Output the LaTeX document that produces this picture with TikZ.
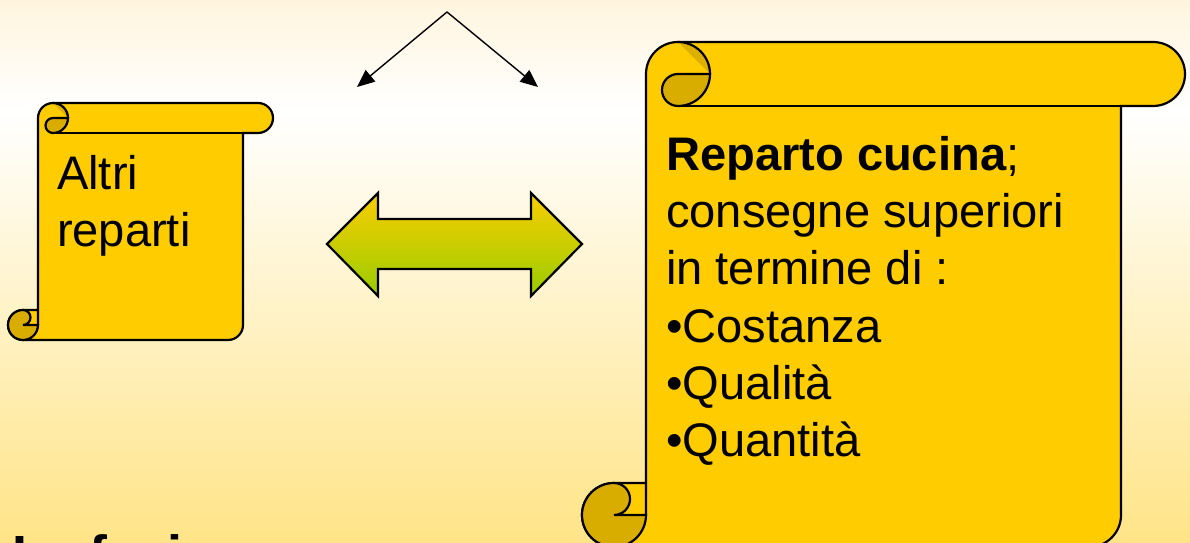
\documentclass[tikz,border=0pt]{standalone}
\usepackage{fontspec}
\setmainfont{Liberation Sans}
\usetikzlibrary{arrows.meta}
\definecolor{giallo}{RGB}{255,204,0}
\definecolor{ombra}{RGB}{217,173,0}
\definecolor{crema}{RGB}{255,245,222}
\definecolor{fondo}{RGB}{255,228,135}
\definecolor{oro}{RGB}{250,206,0}
\definecolor{verde}{RGB}{153,204,0}
\tikzset{
  testo/.style={inner sep=0pt, align=left, font=\fontsize{26.8}{32.65}\selectfont},
  freccia/.style={line width=0.8pt, -{Triangle[length=10pt, width=8.5pt]}}
}
% parchemin : #1 gauche, #2 haut, #3 droite, #4 bas, #5 diametre du rouleau
\newcommand{\pergamena}[5]{%
  \pgfmathsetmacro{\dd}{#5/2}\pgfmathsetmacro{\qq}{#5/4}%
  \pgfmathsetmacro{\xa}{#1+\dd}\pgfmathsetmacro{\xb}{#1+#5}%
  \pgfmathsetmacro{\xc}{#1+#5+\dd}\pgfmathsetmacro{\xd}{#1+2*#5}%
  \pgfmathsetmacro{\xe}{#3-#5}\pgfmathsetmacro{\xf}{#3-\dd}%
  \pgfmathsetmacro{\ya}{#2+\dd}\pgfmathsetmacro{\yb}{#2+#5}%
  \pgfmathsetmacro{\yc}{#4-#5}\pgfmathsetmacro{\yd}{#4-\dd}%
  \draw[fill=giallo] (\xb,\yd) -- (\xb,\ya) arc (180:270:\dd) -- (\xf,#2) arc (-90:90:\dd)
    -- (\xe,\yb) -- (\xe,\yd) arc (0:90:\dd) -- (\xa,#4) arc (90:270:\dd) -- (\xb,\yc) -- cycle;
  \fill[ombra!90!giallo] (\xc,#2) arc (-90:0:\dd) -- cycle; % reflet
  \filldraw[fill=ombra] (\xd,\ya) arc (0:90:\dd) arc (90:270:\qq) -- cycle;
  \draw (\xc,#2) arc (-90:0:\dd);
  \draw (\xe,\yb) -- (\xc,\yb);
  \filldraw[fill=ombra] (\xa,\yc) arc (-90:90:\qq) -- (\xb,\yd) arc (0:270:\dd) -- cycle;
}
\begin{document}
\begin{tikzpicture}[x=0.02cm, y=-0.02cm, line width=1.25pt]
\useasboundingbox (0,0) rectangle (1190,543); % Pour la bounding box
\clip (0,0) rectangle (1190,543);
\shade[top color=crema, bottom color=white] (0,0) rectangle (1190,110);
\shade[top color=white, bottom color=fondo] (0,110) rectangle (1190,543);

\pergamena{8}{103}{273}{340}{30}
\pergamena{582}{42}{1185}{547}{64}

\shade[draw, top color=oro, bottom color=verde] (327,244) -- (378,193) -- (378,219) -- (531,219)
  -- (531,193) -- (582,244) -- (531,296) -- (531,269) -- (378,269) -- (378,296) -- cycle;

\coordinate (sommet) at (447,12);
\coordinate (fin sx) at (357,87);
\coordinate (fin dx) at (538,87);
\draw[freccia] (sommet) -- (fin sx);
\draw[freccia] (sommet) -- (fin dx);

\node[testo, anchor=base west] (altri) at (56,247) {Altri\\reparti};
\node[testo, anchor=base west] (cucina) at (665,457) {\textbf{Reparto cucina};\\consegne superiori\\in termine di :\\•Costanza\\•Qualità\\•Quantità};
\node[inner sep=0pt, anchor=base west, font=\fontsize{30.6}{36}\selectfont\bfseries] (fasi) at (11,574) {Le fasi};
\end{tikzpicture}
\end{document}
